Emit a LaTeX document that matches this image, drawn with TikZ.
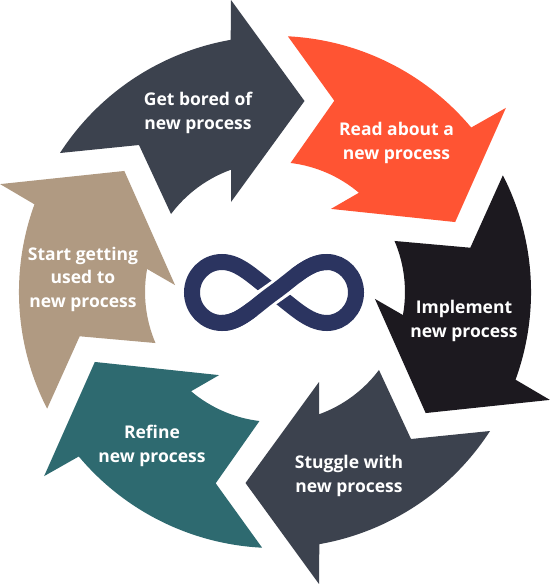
\documentclass[tikz,border=0pt]{standalone}
\usepackage{fontspec}
\setmainfont{Open Sans}
\definecolor{slate}{HTML}{3C424E}
\definecolor{orangered}{HTML}{FF5433}
\definecolor{inkblack}{HTML}{1C191F}
\definecolor{tan}{HTML}{B09A82}
\definecolor{teal}{HTML}{2E6A70}
\definecolor{navy}{HTML}{2B3460}
\newcommand\cyclearrow[2]{%
  \begin{scope}[shift={(275,292)},rotate=#1]
  \fill[#2] (-44,-292) -- (29.5,-191) -- (-44,-90) -- (-44,-122.3)
    arc[start angle=250.2,end angle=216.87,radius=130]
    -- (-136,-147) -- (-215,-139)
    arc[start angle=212.88,end angle=260.03,radius=256] -- cycle;
  \end{scope}}
\tikzset{
  lab/.style={text=white,font=\bfseries\fontsize{17.5}{23.5}\selectfont,align=center,inner sep=0pt},
  loopline/.style={draw=navy,line width=16pt}
}
\begin{document}
\begin{tikzpicture}[x=1pt,y=-1pt]
\useasboundingbox (0,0) rectangle (550,584);
\fill[white] (0,0) rectangle (550,584);
\cyclearrow{0}{slate}
\cyclearrow{-60}{orangered}
\cyclearrow{-120}{inkblack}
\cyclearrow{-180}{slate}
\cyclearrow{-240}{teal}
\cyclearrow{-300}{tan}
% infinity sign
\draw[loopline] (274,292.5) .. controls (293,279) and (308,262) .. (327,262)
  .. controls (343,262) and (356,276) .. (356,292.5)
  .. controls (356,309) and (343,323) .. (327,323)
  .. controls (308,323) and (293,306) .. (274,292.5)
  .. controls (255,279) and (240,262) .. (222,262)
  .. controls (205,262) and (192,276) .. (192,292.5)
  .. controls (192,309) and (205,323) .. (222,323)
  .. controls (240,323) and (255,306) .. (274,292.5);
\draw[white,line width=22pt] (252,308) -- (296,277);
\draw[loopline] (222,323) .. controls (240,323) and (255,306) .. (274,292.5)
  .. controls (293,279) and (308,262) .. (327,262);
% labels
\node[lab] (bored) at (198,113) {Get bored of\\new process};
\node[lab] (read) at (396.5,143) {Read about a\\new process};
\node[lab] (impl) at (464,321) {Implement\\new process};
\node[lab] (strug) at (349,476) {Stuggle with\\new process};
\node[lab] (refine) at (152,446) {Refine\\new process};
\node[lab] (start) at (83,279) {Start getting\\used to\\new process};
\end{tikzpicture}
\end{document}
